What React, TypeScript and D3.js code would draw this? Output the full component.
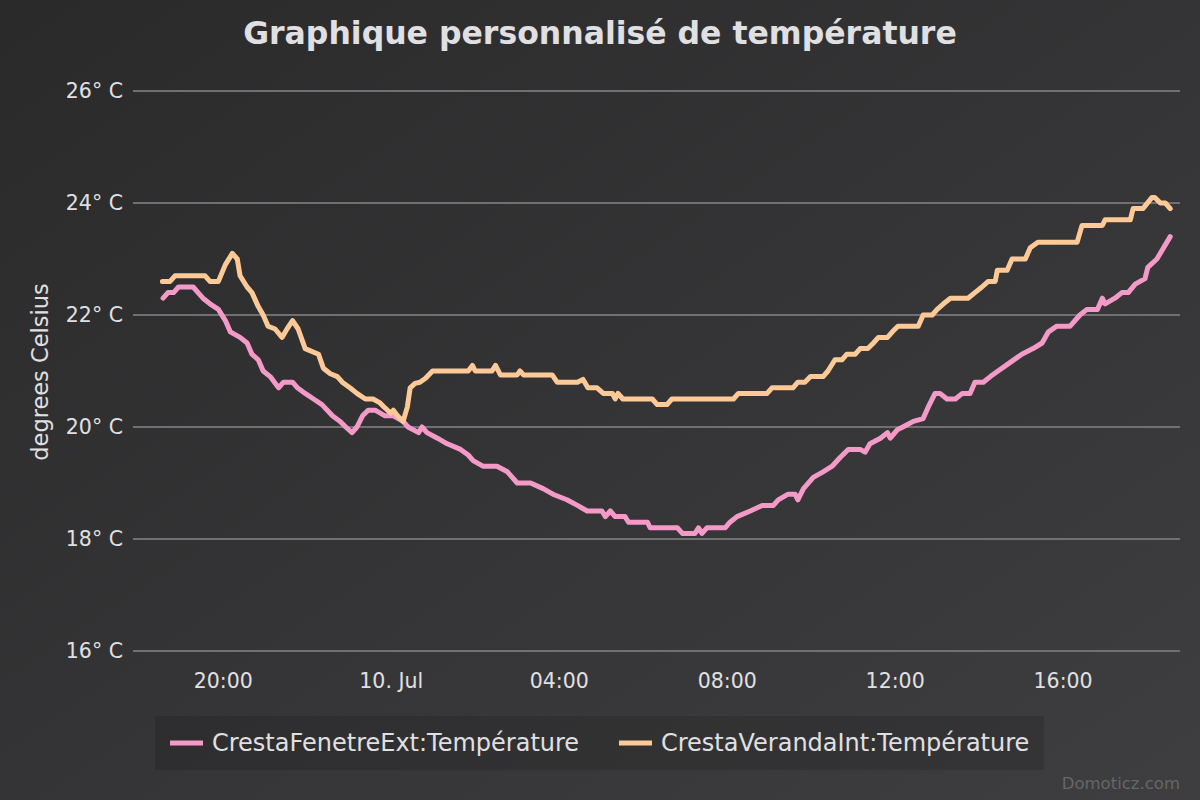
import React from "react";
import * as d3 from "d3";

// day + time, all in July 2019
const fenetreTimes = [
  "09 18:34", "09 18:41", "09 18:49", "09 18:56", "09 19:17", "09 19:24", "09 19:31", "09 19:41",
  "09 19:53", "09 20:03", "09 20:10", "09 20:24", "09 20:34", "09 20:41", "09 20:50", "09 20:57",
  "09 21:07", "09 21:19", "09 21:26", "09 21:39", "09 21:46", "09 21:57", "09 22:09", "09 22:21",
  "09 22:36", "09 22:47", "09 22:55", "09 23:04", "09 23:11", "09 23:19", "09 23:27", "09 23:37",
  "09 23:51", "10 00:03", "10 00:17", "10 00:24", "10 00:39", "10 00:44", "10 00:51", "10 01:06",
  "10 01:20", "10 01:39", "10 01:50", "10 01:57", "10 02:11", "10 02:31", "10 02:46", "10 03:00",
  "10 03:19", "10 03:37", "10 03:51", "10 04:11", "10 04:26", "10 04:40", "10 05:01", "10 05:06",
  "10 05:13", "10 05:20", "10 05:34", "10 05:39", "10 06:06", "10 06:10", "10 06:49", "10 06:56",
  "10 07:14", "10 07:19", "10 07:24", "10 07:31", "10 07:57", "10 08:04", "10 08:14", "10 08:33",
  "10 08:50", "10 09:06", "10 09:13", "10 09:27", "10 09:37", "10 09:41", "10 09:49", "10 10:03",
  "10 10:17", "10 10:30", "10 10:41", "10 10:53", "10 11:10", "10 11:17", "10 11:24", "10 11:39",
  "10 11:49", "10 11:53", "10 12:03", "10 12:11", "10 12:26", "10 12:40", "10 12:47", "10 12:57",
  "10 13:04", "10 13:14", "10 13:26", "10 13:36", "10 13:47", "10 13:54", "10 14:06", "10 14:16",
  "10 14:27", "10 14:44", "10 15:01", "10 15:17", "10 15:30", "10 15:39", "10 15:51", "10 16:10",
  "10 16:24", "10 16:34", "10 16:49", "10 16:56", "10 17:00", "10 17:14", "10 17:24", "10 17:33",
  "10 17:43", "10 17:57", "10 18:01", "10 18:14", "10 18:33",
];
const fenetreTemps = [
  22.3, 22.4, 22.4, 22.5, 22.5, 22.4, 22.3, 22.2,
  22.1, 21.9, 21.7, 21.6, 21.5, 21.3, 21.2, 21.0,
  20.9, 20.7, 20.8, 20.8, 20.7, 20.6, 20.5, 20.4,
  20.2, 20.1, 20.0, 19.9, 20.0, 20.2, 20.3, 20.3,
  20.2, 20.2, 20.1, 20.0, 19.9, 20.0, 19.9, 19.8,
  19.7, 19.6, 19.5, 19.4, 19.3, 19.3, 19.2, 19.0,
  19.0, 18.9, 18.8, 18.7, 18.6, 18.5, 18.5, 18.4,
  18.5, 18.4, 18.4, 18.3, 18.3, 18.2, 18.2, 18.1,
  18.1, 18.2, 18.1, 18.2, 18.2, 18.3, 18.4, 18.5,
  18.6, 18.6, 18.7, 18.8, 18.8, 18.7, 18.9, 19.1,
  19.2, 19.3, 19.45, 19.6, 19.6, 19.55, 19.7, 19.8,
  19.9, 19.8, 19.95, 20.0, 20.1, 20.15, 20.35, 20.6,
  20.6, 20.5, 20.5, 20.6, 20.6, 20.8, 20.8, 20.9,
  21.0, 21.15, 21.3, 21.4, 21.5, 21.7, 21.8, 21.8,
  22.0, 22.1, 22.1, 22.3, 22.2, 22.3, 22.4, 22.4,
  22.55, 22.65, 22.85, 23.0, 23.4,
];

const verandaTimes = [
  "09 18:33", "09 18:44", "09 18:51", "09 19:34", "09 19:41", "09 19:53", "09 20:03", "09 20:13",
  "09 20:20", "09 20:24", "09 20:34", "09 20:41", "09 20:50", "09 20:57", "09 21:04", "09 21:14",
  "09 21:24", "09 21:31", "09 21:39", "09 21:47", "09 21:57", "09 22:16", "09 22:23", "09 22:33",
  "09 22:43", "09 22:50", "09 23:01", "09 23:11", "09 23:23", "09 23:34", "09 23:44", "09 23:51",
  "09 23:59", "10 00:03", "10 00:09", "10 00:17", "10 00:23", "10 00:27", "10 00:34", "10 00:41",
  "10 00:49", "10 00:59", "10 01:50", "10 01:56", "10 02:00", "10 02:24", "10 02:29", "10 02:36",
  "10 03:00", "10 03:04", "10 03:09", "10 03:50", "10 03:57", "10 04:26", "10 04:34", "10 04:41",
  "10 04:54", "10 05:03", "10 05:16", "10 05:20", "10 05:24", "10 05:31", "10 06:13", "10 06:20",
  "10 06:34", "10 06:41", "10 08:09", "10 08:16", "10 08:57", "10 09:04", "10 09:34", "10 09:41",
  "10 09:51", "10 09:59", "10 10:17", "10 10:24", "10 10:34", "10 10:44", "10 10:51", "10 11:03",
  "10 11:10", "10 11:21", "10 11:29", "10 11:36", "10 11:49", "10 11:56", "10 12:04", "10 12:33",
  "10 12:40", "10 12:53", "10 13:00", "10 13:09", "10 13:19", "10 13:44", "10 13:54", "10 14:04",
  "10 14:13", "10 14:23", "10 14:26", "10 14:40", "10 14:47", "10 15:06", "10 15:13", "10 15:24",
  "10 16:20", "10 16:27", "10 16:56", "10 17:00", "10 17:36", "10 17:40", "10 17:54", "10 18:07",
  "10 18:11", "10 18:19", "10 18:26", "10 18:33",
];
const verandaTemps = [
  22.6, 22.6, 22.7, 22.7, 22.6, 22.6, 22.9, 23.1,
  23.0, 22.7, 22.5, 22.4, 22.15, 22.0, 21.8, 21.75,
  21.6, 21.75, 21.9, 21.75, 21.4, 21.3, 21.05, 20.95,
  20.9, 20.8, 20.7, 20.6, 20.5, 20.5, 20.43, 20.34,
  20.25, 20.3, 20.2, 20.1, 20.36, 20.7, 20.78, 20.8,
  20.87, 21.0, 21.0, 21.1, 21.0, 21.0, 21.1, 20.93,
  20.93, 21.0, 20.93, 20.93, 20.8, 20.8, 20.85, 20.7,
  20.7, 20.6, 20.6, 20.5, 20.6, 20.5, 20.5, 20.4,
  20.4, 20.5, 20.5, 20.6, 20.6, 20.7, 20.7, 20.8,
  20.8, 20.9, 20.9, 21.0, 21.2, 21.2, 21.3, 21.3,
  21.4, 21.4, 21.5, 21.6, 21.6, 21.7, 21.8, 21.8,
  22.0, 22.0, 22.1, 22.2, 22.3, 22.3, 22.4, 22.5,
  22.6, 22.6, 22.8, 22.8, 23.0, 23.0, 23.2, 23.3,
  23.3, 23.6, 23.6, 23.7, 23.7, 23.9, 23.9, 24.1,
  24.1, 24.0, 24.0, 23.9,
];

const seriesNames = ["CrestaFenetreExt:Température", "CrestaVerandaInt:Température"];
const seriesColors = ["#f49ac9", "#fdc997"];
const yTicks = [16, 18, 20, 22, 24, 26];
const xTicks = ["09 20:00", "10 00:00", "10 04:00", "10 08:00", "10 12:00", "10 16:00"];
const xExtent = ["09 17:51", "10 18:47"];

const parse = d3.timeParse("%Y-%m-%d %H:%M");
const toDate = (s: string) => parse("2019-07-" + s) as Date;

const W = 1200;
const H = 800;
const plot = { left: 133, right: 1180, top: 91, bottom: 651 };
const font = "'DejaVu Sans', sans-serif";
const textColor = "#E0E0E3";

export default function App() {
  const x = d3.scaleTime().domain(xExtent.map(toDate)).range([plot.left, plot.right]);
  const y = d3.scaleLinear().domain([16, 26]).range([plot.bottom, plot.top]);

  const line = d3
    .line<[Date, number]>()
    .x((d) => x(d[0]))
    .y((d) => y(d[1]));

  const series = [
    fenetreTimes.map((t, i) => [toDate(t), fenetreTemps[i]] as [Date, number]),
    verandaTimes.map((t, i) => [toDate(t), verandaTemps[i]] as [Date, number]),
  ];

  const fmtTick = (d: Date) =>
    d.getHours() === 0 ? d3.timeFormat("%-d. %b")(d) : d3.timeFormat("%H:%M")(d);

  const legendItems = [
    { x: 170, name: seriesNames[0], color: seriesColors[0] },
    { x: 619, name: seriesNames[1], color: seriesColors[1] },
  ];

  return (
    <svg
      width={W}
      height={H}
      style={{ position: "absolute", left: 0, top: 0, display: "block" }}
      fontFamily={font}
    >
      <defs>
        <linearGradient id="bg" x1="0" y1="0" x2="1" y2="1">
          <stop offset="0" stopColor="#2a2a2b" />
          <stop offset="1" stopColor="#3e3e40" />
        </linearGradient>
      </defs>
      <rect width={W} height={H} fill="url(#bg)" />

      <text x={600} y={44} textAnchor="middle" fill={textColor} fontSize={31.5} fontWeight="bold">
        Graphique personnalisé de température
      </text>

      {yTicks.map((v) => (
        <g key={v}>
          <line x1={plot.left} x2={plot.right} y1={y(v)} y2={y(v)} stroke="#707073" strokeWidth={2} />
          <text x={123} y={y(v) + 7} textAnchor="end" fill={textColor} fontSize={20.5}>
            {`${v}° C`}
          </text>
        </g>
      ))}

      <text
        transform={`translate(48, ${(plot.top + plot.bottom) / 2 + 1}) rotate(-90)`}
        textAnchor="middle"
        fill={textColor}
        fontSize={22.5}
      >
        degrees Celsius
      </text>

      {xTicks.map((t) => {
        const d = toDate(t);
        return (
          <text key={t} x={x(d)} y={688} textAnchor="middle" fill={textColor} fontSize={20.5}>
            {fmtTick(d)}
          </text>
        );
      })}

      {series.map((s, i) => (
        <path
          key={i}
          d={line(s) || ""}
          fill="none"
          stroke={seriesColors[i]}
          strokeWidth={5}
          strokeLinejoin="round"
          strokeLinecap="round"
        />
      ))}

      <rect x={155} y={716} width={889} height={54} fill="#000" opacity={0.12} />
      {legendItems.map((it) => (
        <g key={it.name}>
          <line x1={it.x} x2={it.x + 33} y1={743} y2={743} stroke={it.color} strokeWidth={5} />
          <text x={it.x + 42} y={751} fill={textColor} fontSize={24}>
            {it.name}
          </text>
        </g>
      ))}

      <text x={1180} y={789} textAnchor="end" fill="#666" fontSize={16.5}>
        Domoticz.com
      </text>
    </svg>
  );
}
